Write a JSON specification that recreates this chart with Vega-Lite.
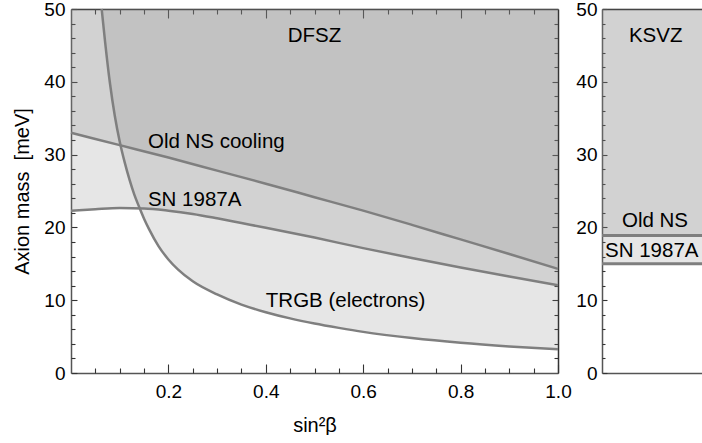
{
  "$schema": "https://vega.github.io/schema/vega-lite/v6.json",
  "padding": {"left": 12, "top": 0, "right": 0, "bottom": 0},
  "bounds": "flush",
  "spacing": 44,
  "datasets": {
    "curves": [
      {"c": "NS", "x": 0, "m": 33.0}, {"c": "NS", "x": 0.1, "m": 31.3}, {"c": "NS", "x": 0.2, "m": 29.6}, {"c": "NS", "x": 0.3, "m": 27.8},
      {"c": "NS", "x": 0.4, "m": 26.0}, {"c": "NS", "x": 0.5, "m": 24.15}, {"c": "NS", "x": 0.6, "m": 22.3}, {"c": "NS", "x": 0.7, "m": 20.35},
      {"c": "NS", "x": 0.8, "m": 18.35}, {"c": "NS", "x": 0.9, "m": 16.35}, {"c": "NS", "x": 1.0, "m": 14.3},
      {"c": "SN", "x": 0, "m": 22.3}, {"c": "SN", "x": 0.05, "m": 22.5}, {"c": "SN", "x": 0.1, "m": 22.65}, {"c": "SN", "x": 0.15, "m": 22.6},
      {"c": "SN", "x": 0.2, "m": 22.3}, {"c": "SN", "x": 0.25, "m": 21.85}, {"c": "SN", "x": 0.3, "m": 21.25}, {"c": "SN", "x": 0.35, "m": 20.6},
      {"c": "SN", "x": 0.4, "m": 19.95}, {"c": "SN", "x": 0.5, "m": 18.6}, {"c": "SN", "x": 0.6, "m": 17.15}, {"c": "SN", "x": 0.7, "m": 15.8},
      {"c": "SN", "x": 0.8, "m": 14.5}, {"c": "SN", "x": 0.9, "m": 13.25}, {"c": "SN", "x": 1.0, "m": 12.05},
      {"c": "TRGB", "x": 0.063, "m": 50}, {"c": "TRGB", "x": 0.07, "m": 45.5}, {"c": "TRGB", "x": 0.08, "m": 39.8}, {"c": "TRGB", "x": 0.09, "m": 35.3},
      {"c": "TRGB", "x": 0.1, "m": 31.8}, {"c": "TRGB", "x": 0.11, "m": 29.0}, {"c": "TRGB", "x": 0.12, "m": 26.6}, {"c": "TRGB", "x": 0.13, "m": 24.5},
      {"c": "TRGB", "x": 0.14, "m": 22.8}, {"c": "TRGB", "x": 0.15, "m": 21.2}, {"c": "TRGB", "x": 0.16, "m": 19.8}, {"c": "TRGB", "x": 0.18, "m": 17.4},
      {"c": "TRGB", "x": 0.2, "m": 15.6}, {"c": "TRGB", "x": 0.22, "m": 14.2}, {"c": "TRGB", "x": 0.25, "m": 12.6}, {"c": "TRGB", "x": 0.3, "m": 10.8},
      {"c": "TRGB", "x": 0.35, "m": 9.4}, {"c": "TRGB", "x": 0.4, "m": 8.35}, {"c": "TRGB", "x": 0.45, "m": 7.5}, {"c": "TRGB", "x": 0.5, "m": 6.8},
      {"c": "TRGB", "x": 0.55, "m": 6.2}, {"c": "TRGB", "x": 0.6, "m": 5.65}, {"c": "TRGB", "x": 0.7, "m": 4.8}, {"c": "TRGB", "x": 0.8, "m": 4.15},
      {"c": "TRGB", "x": 0.9, "m": 3.65}, {"c": "TRGB", "x": 1.0, "m": 3.25}
    ],
    "ksvz": [
      {"c": "NS", "x": 0, "m": 18.9}, {"c": "NS", "x": 1, "m": 18.9},
      {"c": "SN", "x": 0, "m": 15.0}, {"c": "SN", "x": 1, "m": 15.0}
    ],
    "dlabels": [
      {"t": "DFSZ", "x": 0.5, "m": 45.4, "a": "center"},
      {"t": "Old NS cooling", "x": 0.158, "m": 30.9, "a": "left"},
      {"t": "SN 1987A", "x": 0.158, "m": 22.95, "a": "left"},
      {"t": "TRGB (electrons)", "x": 0.4, "m": 9.1, "a": "left"}
    ],
    "klabels": [
      {"t": "KSVZ", "x": 0.537, "m": 45.4, "a": "center"},
      {"t": "Old NS", "x": 0.53, "m": 20.0, "a": "center"},
      {"t": "SN 1987A", "x": 0.03, "m": 15.9, "a": "left"}
    ]
  },
  "hconcat": [
    {
      "width": 487,
      "height": 364,
      "layer": [
        {
          "data": {"name": "curves"},
          "mark": {"type": "area", "fill": "#808080", "fillOpacity": 0.2, "interpolate": "monotone"},
          "encoding": {
            "x": {"field": "x", "type": "quantitative", "scale": {"domain": [0, 1], "nice": false, "zero": false},
              "axis": {"orient": "bottom", "values": [0.2, 0.4, 0.6, 0.8, 1.0], "format": ".1f",
                "title": "sin²β", "titlePadding": 14, "labelPadding": 18, "tickSize": -9, "domain": true}},
            "y": {"field": "m", "type": "quantitative", "stack": null, "scale": {"domain": [0, 50], "nice": false, "zero": false},
              "axis": {"orient": "left", "values": [0, 10, 20, 30, 40, 50],
                "title": "Axion mass \u00a0[meV]", "titlePadding": 11, "labelPadding": 12, "tickSize": -6, "domain": true}},
            "y2": {"datum": 50},
            "detail": {"field": "c"}
          }
        },
        {
          "data": {"name": "curves"},
          "mark": {"type": "line", "stroke": "#7f7f7f", "strokeWidth": 2.5, "interpolate": "monotone"},
          "encoding": {
            "x": {"field": "x", "type": "quantitative", "scale": {"domain": [0, 1], "nice": false, "zero": false},
              "axis": {"orient": "top", "values": [0.2, 0.4, 0.6, 0.8], "labels": false, "title": null, "tickSize": -9, "domain": true, "domainColor": "#222"}},
            "y": {"field": "m", "type": "quantitative", "scale": {"domain": [0, 50], "nice": false, "zero": false},
              "axis": {"orient": "right", "values": [10, 20, 30, 40], "labels": false, "title": null, "tickSize": -6, "domain": true, "domainColor": "#333"}},
            "detail": {"field": "c"}
          }
        },
        {
          "data": {"name": "dlabels"},
          "transform": [{"filter": "datum.a === 'left'"}],
          "mark": {"type": "text", "align": "left", "baseline": "alphabetic", "fontSize": 20.5, "font": "Liberation Sans", "color": "#000"},
          "encoding": {
            "x": {"field": "x", "type": "quantitative",
              "axis": {"orient": "bottom", "values": [0.05,0.1,0.15,0.25,0.3,0.35,0.45,0.5,0.55,0.65,0.7,0.75,0.85,0.9,0.95],
                "labels": false, "title": null, "tickSize": -5, "domain": false}},
            "y": {"field": "m", "type": "quantitative",
              "axis": {"orient": "left", "values": [2,4,6,8,12,14,16,18,22,24,26,28,32,34,36,38,42,44,46,48],
                "labels": false, "title": null, "tickSize": -4, "domain": false}},
            "text": {"field": "t"}
          }
        },
        {
          "data": {"name": "dlabels"},
          "transform": [{"filter": "datum.a === 'center'"}],
          "mark": {"type": "text", "align": "center", "baseline": "alphabetic", "fontSize": 20.5, "font": "Liberation Sans", "color": "#000"},
          "encoding": {
            "x": {"field": "x", "type": "quantitative",
              "axis": {"orient": "top", "values": [0.05,0.1,0.15,0.25,0.3,0.35,0.45,0.5,0.55,0.65,0.7,0.75,0.85,0.9,0.95],
                "labels": false, "title": null, "tickSize": -5, "domain": false}},
            "y": {"field": "m", "type": "quantitative",
              "axis": {"orient": "right", "values": [2,4,6,8,12,14,16,18,22,24,26,28,32,34,36,38,42,44,46,48],
                "labels": false, "title": null, "tickSize": -4, "domain": false}},
            "text": {"field": "t"}
          }
        }
      ],
      "resolve": {"axis": {"x": "independent", "y": "independent"}}
    },
    {
      "width": 100,
      "height": 364,
      "layer": [
        {
          "data": {"name": "ksvz"},
          "mark": {"type": "area", "fill": "#808080", "fillOpacity": 0.2},
          "encoding": {
            "x": {"field": "x", "type": "quantitative", "scale": {"domain": [0, 1], "nice": false, "zero": false},
              "axis": {"orient": "bottom", "labels": false, "ticks": false, "title": null, "domain": true}},
            "y": {"field": "m", "type": "quantitative", "stack": null, "scale": {"domain": [0, 50], "nice": false, "zero": false},
              "axis": {"orient": "left", "values": [0, 10, 20, 30, 40, 50], "title": null, "labelPadding": 10, "tickSize": -5, "domain": true}},
            "y2": {"datum": 50},
            "detail": {"field": "c"}
          }
        },
        {
          "data": {"name": "ksvz"},
          "mark": {"type": "line", "stroke": "#7f7f7f", "strokeWidth": 3},
          "encoding": {
            "x": {"field": "x", "type": "quantitative", "scale": {"domain": [0, 1], "nice": false, "zero": false},
              "axis": {"orient": "top", "labels": false, "ticks": false, "title": null, "domain": true, "domainColor": "#222"}},
            "y": {"field": "m", "type": "quantitative", "scale": {"domain": [0, 50], "nice": false, "zero": false},
              "axis": {"orient": "left", "values": [2,4,6,8,12,14,16,18,22,24,26,28,32,34,36,38,42,44,46,48],
                "labels": false, "title": null, "tickSize": -3, "domain": false}},
            "detail": {"field": "c"}
          }
        },
        {
          "data": {"name": "klabels"},
          "transform": [{"filter": "datum.a === 'left'"}],
          "mark": {"type": "text", "align": "left", "baseline": "alphabetic", "fontSize": 20.5, "font": "Liberation Sans", "color": "#000"},
          "encoding": {
            "x": {"field": "x", "type": "quantitative", "axis": null},
            "y": {"field": "m", "type": "quantitative", "axis": null},
            "text": {"field": "t"}
          }
        },
        {
          "data": {"name": "klabels"},
          "transform": [{"filter": "datum.a === 'center'"}],
          "mark": {"type": "text", "align": "center", "baseline": "alphabetic", "fontSize": 20.5, "font": "Liberation Sans", "color": "#000"},
          "encoding": {
            "x": {"field": "x", "type": "quantitative", "axis": null},
            "y": {"field": "m", "type": "quantitative", "axis": null},
            "text": {"field": "t"}
          }
        }
      ],
      "resolve": {"axis": {"x": "independent", "y": "independent"}}
    }
  ],
  "config": {
    "view": {"stroke": null},
    "font": "Liberation Sans",
    "axis": {
      "labelFont": "Liberation Sans", "titleFont": "Liberation Sans",
      "labelColor": "#000", "titleColor": "#000", "titleFontWeight": "normal",
      "labelFontSize": 19, "titleFontSize": 20,
      "grid": false, "labelFlush": false, "labelOverlap": false, "zindex": 1,
      "tickColor": "#333", "tickWidth": 1.1,
      "domainColor": "#555", "domainWidth": 1.5
    }
  }
}
